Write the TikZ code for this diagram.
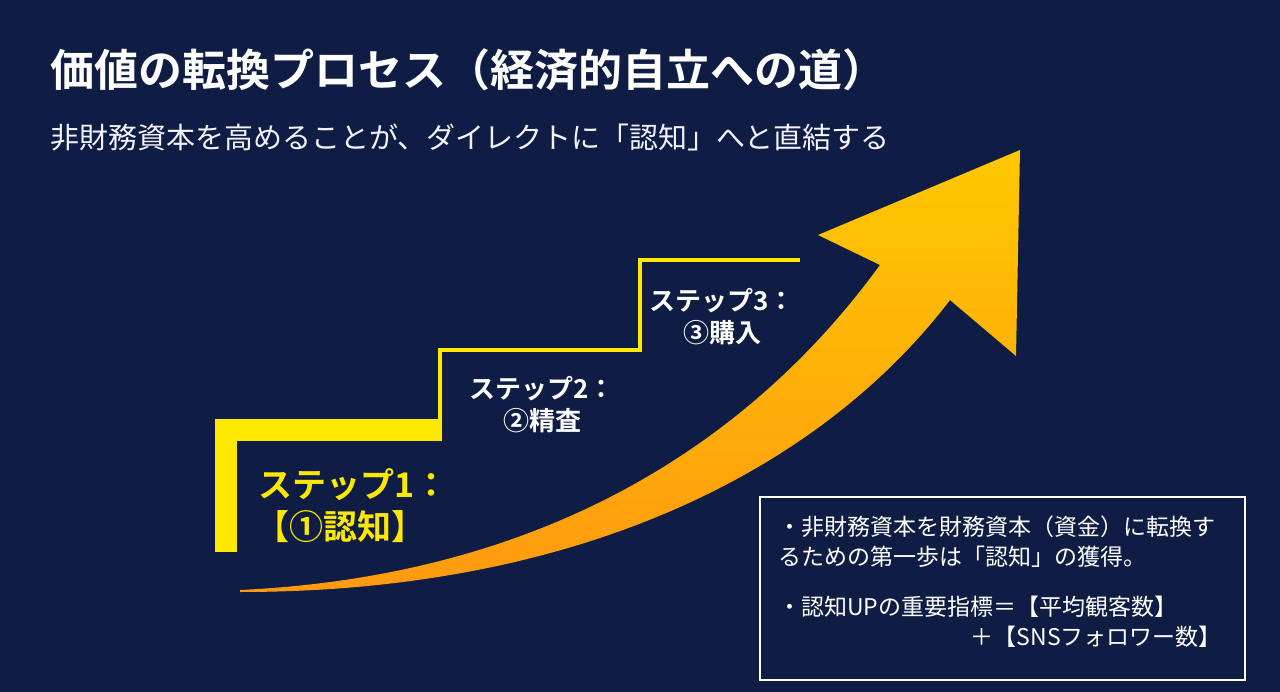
\documentclass[tikz,border=0pt]{standalone}
\usepackage{fontspec}
\setmainfont{Noto Sans CJK JP}
\newfontfamily\jpb{Noto Sans CJK JP}[BoldFont={* Bold}]
\begin{document}
\begin{tikzpicture}[x=1pt,y=-1pt,
  ttl/.style={anchor=west,text=white,font=\jpb\bfseries\fontsize{44}{48}\selectfont,inner sep=0},
  sub/.style={anchor=west,text=white!95!blue,font=\fontsize{29}{32}\selectfont,inner sep=0},
  stp/.style={text=white,font=\jpb\bfseries\fontsize{26}{32}\selectfont,align=center,inner sep=0},
  box/.style={text=white,font=\fontsize{23}{26}\selectfont,anchor=west,inner sep=0}]
\definecolor{bg}{HTML}{0F1D45}
\definecolor{yl}{HTML}{FFE800}
\definecolor{gold}{HTML}{FFC800}
\definecolor{org}{HTML}{FF9A10}
\fill[bg] (0,0) rectangle (1280,692);
\useasboundingbox (0,0) rectangle (1280,692);
\node[ttl] (t) at (50,70) {価値の転換プロセス（経済的自立への道）};
\node[sub] (s) at (50,138) {非財務資本を高めることが、ダイレクトに「認知」へと直結する};
% steps
\draw[yl,line width=22pt] (226,552) -- (226,430) -- (442,430);
\draw[yl,line width=4pt] (440,440) -- (440,350) -- (640,350) -- (640,260) -- (800,260);
% arrow
\shade[left color=gold,right color=org,shading angle=0]
  (240,590) .. controls (560,575) and (760,430) .. (880,265)
  -- (818,235) -- (1020,150) -- (1016,356) -- (950,300)
  .. controls (820,470) and (580,592) .. (240,592) -- cycle;
\node[font=\jpb\bfseries\fontsize{34}{38}\selectfont,text=yl,anchor=west,inner sep=0] (s1) at (258,485) {ステップ1：};
\node[font=\jpb\bfseries\fontsize{34}{38}\selectfont,text=yl,anchor=west,inner sep=0] (s1b) at (255,527) {【①認知】};
\node[stp] (s2) at (542,405) {ステップ2：\\②精査};
\node[stp] (s3) at (722,317) {ステップ3：\\③購入};
\draw[white,line width=1.5pt] (760,497) rectangle (1245,680);
\node[box] (b1) at (778,527) {・非財務資本を財務資本（資金）に転換す};
\node[box] (b2) at (778,557) {るための第一歩は「認知」の獲得。};
\node[box] (b3) at (778,607) {・認知UPの重要指標＝【平均観客数】};
\node[box,anchor=east] (b4) at (1222,637) {＋【SNSフォロワー数】};
\end{tikzpicture}
\end{document}
